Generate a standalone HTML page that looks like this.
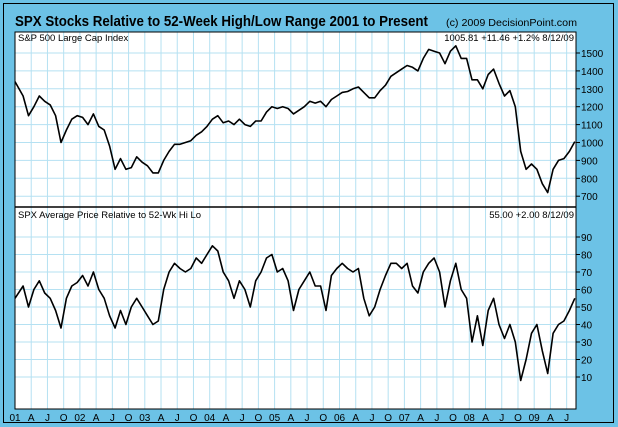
<!DOCTYPE html>
<html><head><meta charset="utf-8"><style>
html,body{margin:0;padding:0;background:#6cc2e6;}
svg{display:block;font-family:"Liberation Sans",Arial,sans-serif;}
</style></head><body>
<svg id="c" width="618" height="427" viewBox="0 0 618 427">
<rect x="3.5" y="3.5" width="610" height="419" fill="#6cc2e6" stroke="#000"/>
<text x="15" y="26" font-size="14.5" font-weight="bold" textLength="413" lengthAdjust="spacingAndGlyphs">SPX Stocks Relative to 52-Week High/Low Range 2001 to Present</text>
<text x="446" y="26" font-size="10" textLength="131" lengthAdjust="spacingAndGlyphs">(c) 2009 DecisionPoint.com</text>
<g id="g"></g>
</svg>
<script>
const spx=[1340,1260,1150,1200,1260,1230,1210,1150,1000,1070,1130,1150,
1140,1100,1160,1090,1070,980,850,910,850,860,920,890,
870,830,830,900,950,990,990,1000,1010,1040,1060,1090,
1130,1150,1110,1120,1100,1130,1100,1090,1120,1120,1170,1200,
1190,1200,1190,1160,1180,1200,1230,1220,1230,1200,1240,1260,
1280,1285,1300,1310,1280,1250,1250,1290,1320,1370,1390,1410,
1430,1420,1400,1470,1520,1510,1500,1440,1510,1540,1470,1470,
1350,1350,1300,1380,1410,1330,1260,1290,1200,950,850,880,
850,770,720,850,900,910,950,1005];
const ind=[55,62,50,60,65,58,55,48,38,55,62,64,
68,62,70,60,55,45,38,48,40,50,55,50,
45,40,42,60,70,75,72,70,72,78,75,80,
85,82,70,65,55,65,60,50,65,70,78,80,
70,72,65,48,60,65,70,62,62,48,68,72,
75,72,70,72,55,45,50,60,68,75,75,72,
75,62,58,70,75,78,70,50,65,75,60,55,
30,45,28,48,55,40,32,40,30,8,20,35,
40,25,12,35,40,42,48,55];
const spxTicks=[700,800,900,1000,1100,1200,1300,1400,1500];
const indTicks=[10,20,30,40,50,60,70,80,90];
const quarterLabels=["A","J","O"];
const years=["01","02","03","04","05","06","07","08","09"];

const NS="http://www.w3.org/2000/svg";
const g=document.getElementById('g');
const L=15,R=576,T1=32,B1=207,T2=207,B2=409;
const x=t=>L+(t-2001)*64.9;
const y1=v=>53+(1500-v)*0.179;
const y2=v=>237+(90-v)*1.75;
function mk(tag,a,parent){const e=document.createElementNS(NS,tag);for(const k in a)e.setAttribute(k,a[k]);(parent||g).appendChild(e);return e;}

[[T1,B1,'price-panel'],[T2,B2,'indicator-panel']].forEach(([t,b,n])=>{
 const r=mk('rect',{x:L,y:t,width:R-L,height:b-t,fill:'#fff'});
 
 
});
for(let yr=0;yr<9;yr++){for(let q=0;q<4;q++){const t=2001+yr+q*0.25;if(t>2009.62)continue;const xx=x(t);
 if(xx>L+1){const l1=mk('line',{x1:xx,x2:xx,y1:T1,y2:B2,stroke:'#b5e1f2','stroke-width':1});
 
 }
 const tx=mk('text',{x:xx,y:421,'font-size':10,'text-anchor':'middle'});tx.textContent=q===0?years[yr]:quarterLabels[q-1];
 
 
}}
function hgrid(ticks,fy,t,b){ticks.forEach(v=>{const yy=fy(v);
 const l=mk('line',{x1:L,x2:R,y1:yy,y2:yy,stroke:'#b5e1f2'});
 
 
 const tk=mk('line',{x1:R,x2:R+4,y1:yy,y2:yy,stroke:'#000'});
 
 
 const tx=mk('text',{x:R+5,y:yy+4,'font-size':10});tx.textContent=v;
 
 });}
hgrid(spxTicks,y1,T1,B1);hgrid(indTicks,y2,T2,B2);
function series(d,fy,n){const p=d.map((v,i)=>(i?'L':'M')+x(2001+i/12+(i?0.5/12:0)).toFixed(1)+','+fy(v).toFixed(1)).join('');
 const e=mk('path',{d:p,fill:'none',stroke:'#000','stroke-width':1.6,'stroke-linejoin':'round'});
 
 }
series(spx,y1,'spx-line');series(ind,y2,'indicator-line');
const fr=mk('rect',{x:L,y:T1,width:R-L,height:B2-T1,fill:'none',stroke:'#000'});


const dv=mk('line',{x1:L,x2:R,y1:B1,y2:B1,stroke:'#000','stroke-width':1.5});


[[L+3,T1+9,'start','S&P 500 Large Cap Index','price-panel-label'],
 [R-2,T1+9,'end','1005.81  +11.46  +1.2%  8/12/09','price-last-value'],
 [L+3,T2+11,'start','SPX Average Price Relative to 52-Wk Hi Lo','indicator-panel-label'],
 [R-2,T2+11,'end','55.00  +2.00  8/12/09','indicator-last-value']].forEach(([xx,yy,a,s,n])=>{
 const t=mk('text',{x:xx,y:yy,'font-size':9.5,'text-anchor':a,'xml:space':'preserve'});t.textContent=s;
 
 });
</script>
</body></html>
